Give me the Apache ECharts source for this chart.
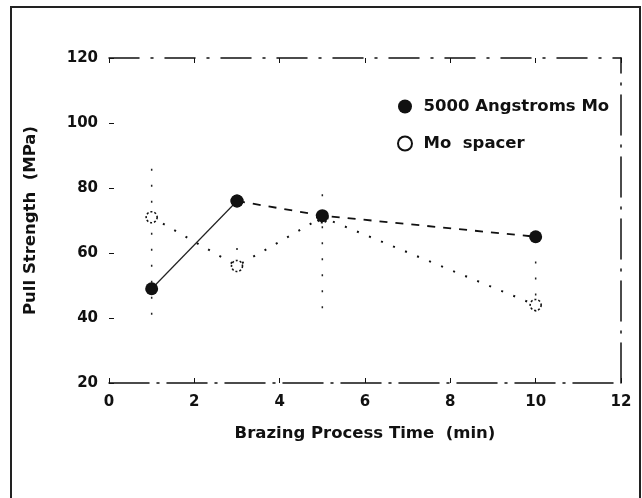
<!DOCTYPE html>
<html><head><meta charset="utf-8">
<script src="https://cdn.jsdelivr.net/npm/echarts@6/dist/echarts.min.js"></script>
<style>html,body{margin:0;padding:0;background:#fff}#c{width:642px;height:498px}</style>
</head><body><div id="c"></div>
<script>
var times = [1, 3, 5, 10];
var moFilm = [49, 76, 71.5, 65];
var moSpacer = [71, 56, 71, 44];
var errTimes = [1, 3, 5, 10];
var errLow = [41, 56, 43, 42];
var errHigh = [88, 62, 80, 60];
var xTicks = [0, 2, 4, 6, 8, 10, 12];
var yTicks = [20, 40, 60, 80, 100, 120];

function pairs(xs, ys) { return xs.map(function (x, i) { return [x, ys[i]]; }); }
var filmPts = pairs(times, moFilm);
var spacerPts = pairs(times, moSpacer);
var errData = errTimes.map(function (x, i) { return [x, errLow[i], errHigh[i]]; });

var font = 'DejaVu Sans';
var chart = echarts.init(document.getElementById('c'));
var axisLbl = { fontFamily: font, fontWeight: 'bold', fontSize: 15, color: '#111' };
var titleLbl = { fontFamily: font, fontWeight: 'bold', fontSize: 16.5, color: '#111' };
chart.setOption({
  animation: false,
  backgroundColor: '#fff',
  graphic: [{ type: 'rect', shape: { x: 11, y: 7, width: 629, height: 505 },
    style: { fill: 'none', stroke: '#222', lineWidth: 2 } }],
  grid: { left: 109, right: 21, top: 58, bottom: 115 },
  legend: {
    left: 392, top: 93, orient: 'vertical', itemGap: 20, itemWidth: 15, itemHeight: 14,
    textStyle: { fontFamily: font, fontWeight: 'bold', fontSize: 16.5, color: '#111', padding: [0, 0, 0, 6] },
    data: [{ name: '5000 Angstroms Mo', icon: 'circle' }, { name: 'Mo  spacer', icon: 'circle' }]
  },
  xAxis: [{
    type: 'value', min: xTicks[0], max: xTicks[xTicks.length - 1], interval: 2,
    name: 'Brazing Process Time  (min)', nameLocation: 'middle', nameGap: 42,
    nameTextStyle: titleLbl,
    axisLine: { show: true, onZero: false, lineStyle: { color: '#111', width: 1.5, type: [40, 8, 2, 8] } },
    axisTick: { show: true, inside: true, length: 5, lineStyle: { color: '#111' } },
    axisLabel: Object.assign({ margin: 12 }, axisLbl),
    splitLine: { show: false }
  }, {
    type: 'value', position: 'top', min: xTicks[0], max: xTicks[xTicks.length - 1], interval: 2,
    axisLine: { show: true, onZero: false, lineStyle: { color: '#111', width: 1.5, type: [30, 12, 2, 12] } },
    axisTick: { show: true, inside: true, length: 5, lineStyle: { color: '#111' } },
    axisLabel: { show: false }, splitLine: { show: false }
  }],
  yAxis: [{
    type: 'value', position: 'left', min: yTicks[0], max: yTicks[yTicks.length - 1], interval: 20,
    name: 'Pull Strength  (MPa)', nameLocation: 'middle', nameGap: 70, nameRotate: 90,
    nameTextStyle: titleLbl,
    axisLine: { show: false, onZero: false },
    axisTick: { show: true, inside: true, length: 5, lineStyle: { color: '#111' } },
    axisLabel: Object.assign({ margin: 11 }, axisLbl),
    splitLine: { show: false }
  }, {
    type: 'value', position: 'right', min: yTicks[0], max: yTicks[yTicks.length - 1], interval: 20,
    axisLine: { show: true, onZero: false, lineStyle: { color: '#111', width: 1.5, type: [40, 10, 2, 10] } },
    axisTick: { show: false }, axisLabel: { show: false }, splitLine: { show: false }
  }],
  series: [{
    type: 'custom', name: 'err', silent: true, data: errData, z: 1,
    renderItem: function (params, api) {
      var lo = api.coord([api.value(0), api.value(1)]);
      var hi = api.coord([api.value(0), api.value(2)]);
      return { type: 'line', shape: { x1: lo[0], y1: lo[1], x2: hi[0], y2: hi[1] },
        style: { stroke: '#222', lineWidth: 1.5, lineDash: [2, 14] } };
    }
  }, {
    name: '5000 Angstroms Mo', type: 'line', data: filmPts.slice(0, 2),
    symbol: 'circle', symbolSize: 13, z: 5,
    itemStyle: { color: '#111' }, lineStyle: { color: '#222', width: 1.2, type: 'solid' }
  }, {
    name: '5000 Angstroms Mo', type: 'line', data: filmPts.slice(1),
    symbol: 'circle', symbolSize: 13, z: 5,
    itemStyle: { color: '#111' }, lineStyle: { color: '#111', width: 1.8, type: [8, 8] }
  }, {
    name: 'Mo  spacer', type: 'line', data: spacerPts,
    symbol: 'circle', symbolSize: 11, z: 4,
    itemStyle: { color: '#fff', borderColor: '#111', borderWidth: 1.6, borderType: [2, 2] },
    lineStyle: { color: '#111', width: 2, type: [2, 11] }
  }]
});
</script></body></html>
